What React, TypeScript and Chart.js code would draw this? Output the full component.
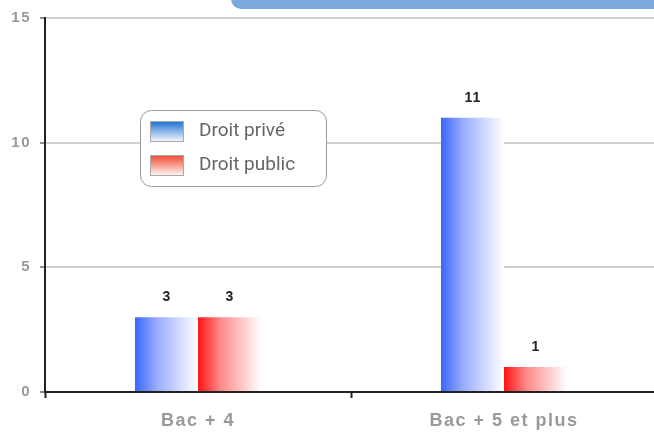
import React, { useEffect, useRef } from "react";
import { Chart, registerables } from "chart.js";

Chart.register(...registerables);

const categories = ["Bac + 4", "Bac + 5 et plus"];
const seriesNames = ["Droit privé", "Droit public"];
const droitPrive = [3, 11];
const droitPublic = [3, 1];
const yTicks = [0, 5, 10, 15];

const CAT_PCT = 0.412;

const barGrad = (from: string, mid: string) => (ctx: any) => {
  const chart = ctx.chart;
  const x = chart.scales && chart.scales.x;
  if (!x || ctx.type !== "data" || !x.width) return from;
  const n = chart.data.labels.length;
  const nd = chart.data.datasets.length;
  const catW = x.width / n;
  const barW = (catW * CAT_PCT) / nd;
  const center = x.getPixelForValue(ctx.dataIndex);
  const left = center - (catW * CAT_PCT) / 2 + ctx.datasetIndex * barW;
  const g = chart.ctx.createLinearGradient(left, 0, left + barW, 0);
  g.addColorStop(0, from);
  g.addColorStop(0.35, mid);
  g.addColorStop(1, "#ffffff");
  return g;
};

const topBoxPlugin = {
  id: "topBox",
  beforeDraw(chart: any) {
    const c = chart.ctx;
    c.save();
    c.fillStyle = "#7aaadc";
    c.beginPath();
    const x = 231, y = -20, w = 460, h = 29, r = 10;
    c.moveTo(x + r, y);
    c.lineTo(x + w, y);
    c.lineTo(x + w, y + h);
    c.lineTo(x + r, y + h);
    c.arcTo(x, y + h, x, y + h - r, r);
    c.lineTo(x, y);
    c.closePath();
    c.fill();
    c.restore();
    c.letterSpacing = "1.5px";
  },
  beforeDatasetsDraw(chart: any) {
    chart.ctx.letterSpacing = "0px";
  },
};

const valueLabelPlugin = {
  id: "valueLabels",
  afterDatasetsDraw(chart: any) {
    const c = chart.ctx;
    c.save();
    c.letterSpacing = "1px";
    c.font = "bold 14px 'Liberation Sans', Arial, sans-serif";
    c.fillStyle = "#222";
    c.textAlign = "center";
    c.textBaseline = "middle";
    chart.data.datasets.forEach((ds: any, di: number) => {
      const meta = chart.getDatasetMeta(di);
      meta.data.forEach((el: any, i: number) => {
        c.fillText(String(ds.data[i]), el.x + 0.5, el.y - 20);
      });
    });
    c.restore();
  },
};

const legendPlugin = {
  id: "boxLegend",
  afterDraw(chart: any) {
    const c = chart.ctx;
    c.save();
    c.letterSpacing = "0px";
    const bx = 140.5, by = 110.5, bw = 186, bh = 76, r = 11;
    c.beginPath();
    c.moveTo(bx + r, by);
    c.arcTo(bx + bw, by, bx + bw, by + bh, r);
    c.arcTo(bx + bw, by + bh, bx, by + bh, r);
    c.arcTo(bx, by + bh, bx, by, r);
    c.arcTo(bx, by, bx + bw, by, r);
    c.closePath();
    c.fillStyle = "#ffffff";
    c.fill();
    c.strokeStyle = "#9a9a9a";
    c.lineWidth = 1;
    c.stroke();
    const swatches = [
      ["#1a6fd0", "#f2f6fc"],
      ["#f04530", "#fff4ee"],
    ];
    chart.data.datasets.forEach((ds: any, i: number) => {
      const sy = 121 + i * 34;
      const g = c.createLinearGradient(0, sy, 0, sy + 20);
      g.addColorStop(0, swatches[i][0]);
      g.addColorStop(1, swatches[i][1]);
      c.fillStyle = g;
      c.fillRect(151, sy, 33, 20);
      c.strokeStyle = "#aaaaaa";
      c.strokeRect(150.5, sy + 0.5, 33, 20);
      c.fillStyle = "#666666";
      c.font = "19px Roboto, 'Liberation Sans', Arial, sans-serif";
      c.textAlign = "left";
      c.textBaseline = "middle";
      c.fillText(ds.label, 199, sy + 10);
    });
    c.restore();
  },
};

export default function App() {
  const ref = useRef<HTMLCanvasElement | null>(null);
  useEffect(() => {
    if (!ref.current) return;
    const chart = new Chart(ref.current, {
      type: "bar",
      data: {
        labels: categories,
        datasets: [
          {
            label: seriesNames[0],
            data: droitPrive,
            backgroundColor: barGrad("#3a66ff", "#9aacff"),
            borderWidth: 0,
          },
          {
            label: seriesNames[1],
            data: droitPublic,
            backgroundColor: barGrad("#ff1414", "#ff8888"),
            borderWidth: 0,
          },
        ],
      },
      options: {
        responsive: false,
        animation: false,
        layout: { padding: { top: 17, left: 0, right: 0, bottom: 0 } },
        plugins: {
          legend: { display: false },
          tooltip: { enabled: false },
          title: { display: false },
        },
        datasets: {
          bar: { categoryPercentage: CAT_PCT, barPercentage: 1 },
        },
        scales: {
          x: {
            afterFit: (s: any) => {
              s.height = 40;
            },
            grid: {
              drawOnChartArea: false,
              drawTicks: true,
              tickLength: 6,
              tickColor: "#222",
              tickWidth: 2,
            },
            border: { display: true, color: "#222", width: 2 },
            ticks: {
              color: "#999999",
              font: { family: "'Liberation Sans', Arial, sans-serif", size: 18, weight: "bold" },
              padding: 12,
            },
          },
          y: {
            min: 0,
            max: 15,
            afterFit: (s: any) => {
              s.width = 45;
            },
            afterBuildTicks: (s: any) => {
              s.ticks = yTicks.map((v) => ({ value: v }));
            },
            grid: {
              color: "#d2d2d2",
              lineWidth: 2,
              tickLength: 5,
              tickColor: "#222",
              tickWidth: 1,
            },
            border: { display: true, color: "#222", width: 2 },
            ticks: {
              color: "#999999",
              font: { family: "'Liberation Sans', Arial, sans-serif", size: 15, weight: "bold" },
              padding: 9,
            },
          },
        },
      },
      plugins: [topBoxPlugin, valueLabelPlugin, legendPlugin],
    } as any);
    return () => chart.destroy();
  }, []);
  return (
    <div
      style={{
        position: "fixed",
        left: 0,
        top: 0,
        width: 654,
        height: 432,
        overflow: "hidden",
        background: "#ffffff",
      }}
    >
      <canvas ref={ref} width={657} height={432} style={{ display: "block" }} />
    </div>
  );
}
